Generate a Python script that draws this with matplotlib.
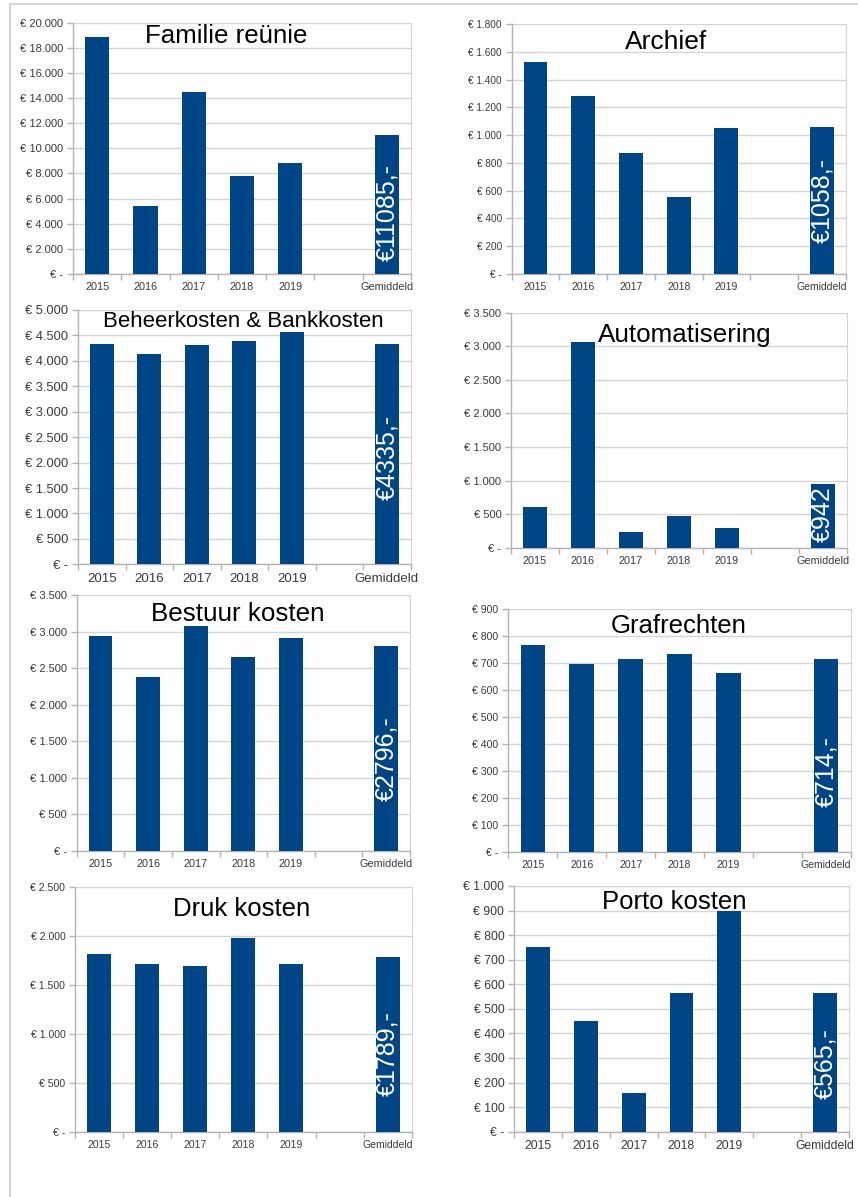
import matplotlib
matplotlib.use("Agg")
import matplotlib.pyplot as plt
from matplotlib.ticker import FuncFormatter, MultipleLocator, FixedLocator
from matplotlib.lines import Line2D

plt.rcParams['font.family'] = ['Liberation Sans', 'DejaVu Sans']

W, H = 858, 1197

categories = ['2015', '2016', '2017', '2018', '2019', '', 'Gemiddeld']

titles = ['Familie reünie', 'Archief', 'Beheerkosten & Bankkosten', 'Automatisering',
          'Bestuur kosten', 'Grafrechten', 'Druk kosten', 'Porto kosten']

familie = [18900, 5440, 14450, 7820, 8810]
archief = [1524, 1284, 869, 552, 1054]
beheer = [4332, 4128, 4305, 4391, 4574]
automatisering = [611, 3068, 233, 472, 298]
bestuur = [2939, 2377, 3071, 2647, 2911]
grafrechten = [765, 697, 716, 734, 663]
druk = [1818, 1719, 1695, 1985, 1719]
porto = [750, 452, 159, 566, 900]

gemiddeld = [11085, 1058, 4335, 942, 2796, 714, 1789, 565]
gem_labels = ['€11085,-', '€1058,-', '€4335,-', '€942', '€2796,-', '€714,-', '€1789,-', '€565,-']

series = [familie, archief, beheer, automatisering, bestuur, grafrechten, druk, porto]
y_max = [20000, 1800, 5000, 3500, 3500, 900, 2500, 1000]
y_step = [2000, 200, 500, 500, 500, 100, 500, 100]

# layout (pixel boxes: left, right, top, bottom)
boxes = [(73, 411, 22.7, 274), (511.7, 845.7, 24, 274),
         (78, 410.7, 310, 564.3), (511, 846.7, 312.7, 547.7),
         (76.7, 410, 595, 850.7), (508.3, 850.7, 609, 851.7),
         (75, 411.7, 887.3, 1131.7), (514, 849, 886, 1131.7)]
title_pos = [(225.8, 43.3), (665.8, 49.3), (243.3, 327.3), (685, 341.7),
             (237.5, 621), (678.3, 632.7), (241.2, 915.7), (674, 909.3)]
title_size = [18.6, 19, 16, 18.7, 18.7, 18.5, 18.5, 18.5]
label_y = [4855, 528, 2100, 502, 1255, 297, 795, 276]
ytick_size = [8, 7.2, 9.3, 8, 8, 7.6, 7.6, 8.8]
xtick_size = [7.8, 7.5, 9.5, 7.8, 7.8, 7.5, 7.5, 8.7]

BAR = '#004586'
GRID = '#d4d4d4'
AXIS = '#b3b3b3'
TXT = '#3a3a3a'


def euro(v, pos=None):
    if abs(v) < 1e-9:
        return '€ -'
    return '€ ' + f'{int(round(v)):,}'.replace(',', '.')


fig = plt.figure(figsize=(W / 100, H / 100), dpi=100)
fig.patch.set_facecolor('white')

for i in range(8):
    l, r, t, b = boxes[i]
    ax = fig.add_axes([l / W, 1 - b / H, (r - l) / W, (b - t) / H])
    vals = list(series[i]) + [None, gemiddeld[i]]
    xs = [k for k, v in enumerate(vals) if v is not None]
    hs = [v for v in vals if v is not None]
    ax.bar(xs, hs, width=0.5, color=BAR, zorder=3)
    ax.set_xlim(-0.5, len(categories) - 0.5)
    ax.set_ylim(0, y_max[i])
    ax.yaxis.set_major_locator(MultipleLocator(y_step[i]))
    ax.yaxis.set_major_formatter(FuncFormatter(euro))
    ax.grid(axis='y', color=GRID, linewidth=1.0, zorder=0)
    ax.set_axisbelow(True)
    ax.set_xticks(range(len(categories)))
    ax.set_xticklabels(categories)
    ax.xaxis.set_minor_locator(FixedLocator([k - 0.5 for k in range(len(categories) + 1)]))
    ax.tick_params(axis='x', which='major', length=0, pad=6, labelsize=xtick_size[i], labelcolor=TXT)
    ax.tick_params(axis='x', which='minor', length=4, color=AXIS, width=1)
    ax.tick_params(axis='y', length=4, color=AXIS, width=1, pad=3, labelsize=ytick_size[i], labelcolor=TXT)
    for s in ['left', 'bottom']:
        ax.spines[s].set_color(AXIS)
        ax.spines[s].set_linewidth(1)
    ax.spines['right'].set_color(GRID)
    ax.spines['top'].set_visible(False)
    ax.text(6, label_y[i], gem_labels[i], rotation=90, ha='center', va='center',
            color='white', fontsize=18, zorder=5)
    tx, ty = title_pos[i]
    fig.text(tx / W, 1 - ty / H, titles[i], ha='center', va='baseline',
             fontsize=title_size[i], color='black', zorder=10)

# page border lines
fig.add_artist(Line2D([10 / W, 10 / W], [0, 1 - 4 / H], color='#d6d6d6', linewidth=1.5,
                      transform=fig.transFigure))
fig.add_artist(Line2D([10 / W, 1], [1 - 4 / H, 1 - 4 / H], color='#d6d6d6', linewidth=1.5,
                      transform=fig.transFigure))

fig.savefig('out.png', dpi=100, facecolor='white')
